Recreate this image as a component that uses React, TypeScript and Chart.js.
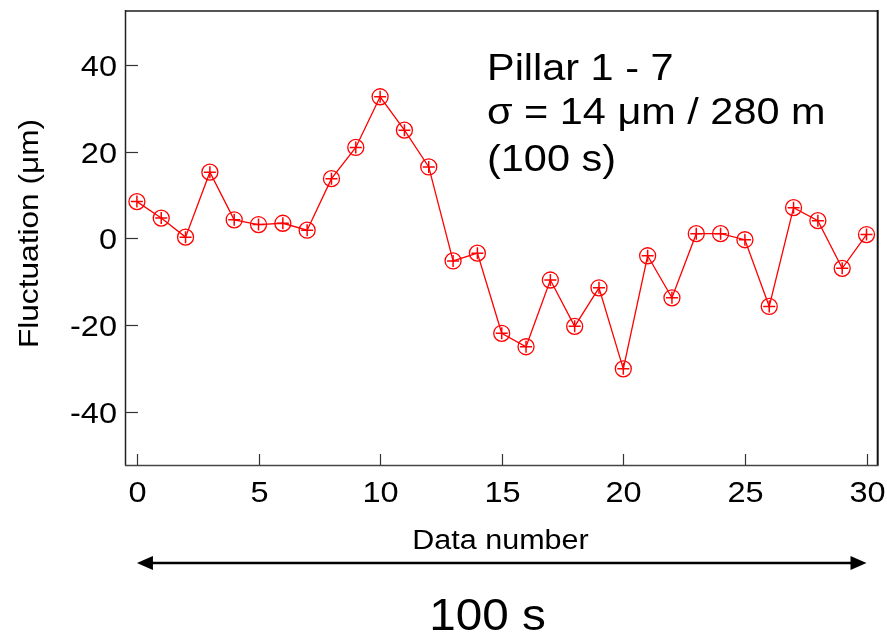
import React, { useEffect, useRef } from "react";
import { Chart, registerables } from "chart.js";

Chart.register(...registerables);

const dataNumbers = Array.from({ length: 31 }, (_, i) => i);
const fluctuation = [
  8.5, 4.7, 0.3, 15.3, 4.3, 3.2, 3.5, 1.9, 13.8, 21.0, 32.7, 25.0, 16.5, -5.2,
  -3.4, -21.9, -25.0, -9.6, -20.3, -11.4, -30.1, -4.0, -13.7, 1.1, 1.1, -0.3,
  -15.7, 7.1, 4.1, -6.9, 0.9,
];
const xTicks = [0, 5, 10, 15, 20, 25, 30];
const yTicks = [-40, -20, 0, 20, 40];
const annotationLines = ["Pillar 1 - 7", "\u03c3 = 14 \u03bcm / 280 m", "(100 s)"];
const xTitle = "Data number";
const yTitle = "Fluctuation (\u03bcm)";
const spanLabel = "100 s";

const FONT = '"Liberation Sans", Arial, sans-serif';

function txt(
  ctx: CanvasRenderingContext2D,
  s: string,
  x: number,
  y: number,
  size: number,
  align: CanvasTextAlign,
  sx: number,
  rot = 0
) {
  ctx.save();
  ctx.translate(x, y);
  if (rot) ctx.rotate(rot);
  ctx.scale(sx, 1);
  ctx.font = `${size}px ${FONT}`;
  ctx.textAlign = align;
  ctx.textBaseline = "alphabetic";
  ctx.fillStyle = "#000";
  ctx.fillText(s, 0, 0);
  ctx.restore();
}

const decorPlugin = {
  id: "decor",
  afterDraw(chart: any) {
    const ctx: CanvasRenderingContext2D = chart.ctx;
    const { left, right, top, bottom } = chart.chartArea;
    const xs = chart.scales.x;
    const ys = chart.scales.y;
    ctx.save();
    // frame
    ctx.lineCap = "butt";
    ctx.strokeStyle = "#555";
    ctx.lineWidth = 2;
    ctx.beginPath();
    ctx.moveTo(left, top);
    ctx.lineTo(right, top);
    ctx.stroke();
    ctx.strokeStyle = "#111";
    ctx.beginPath();
    ctx.moveTo(right, top - 1);
    ctx.lineTo(right, bottom);
    ctx.stroke();
    ctx.lineWidth = 1.5;
    ctx.strokeStyle = "#222";
    ctx.beginPath();
    ctx.moveTo(left + 0.5, top - 1);
    ctx.lineTo(left + 0.5, bottom + 0.5);
    ctx.stroke();
    ctx.strokeStyle = "#444";
    ctx.beginPath();
    ctx.moveTo(left, bottom + 0.5);
    ctx.lineTo(right + 1, bottom + 0.5);
    ctx.stroke();
    // ticks
    ctx.lineWidth = 1.2;
    ctx.strokeStyle = "#333";
    xTicks.forEach((v) => {
      const px = Math.round(xs.getPixelForValue(v)) + 0.5;
      ctx.beginPath();
      ctx.moveTo(px, bottom);
      ctx.lineTo(px, bottom - 11);
      ctx.stroke();
      txt(ctx, String(v), px, bottom + 37, 29, "center", 1.12);
    });
    yTicks.forEach((v) => {
      const py = Math.round(ys.getPixelForValue(v)) + 0.5;
      ctx.beginPath();
      ctx.moveTo(left, py);
      ctx.lineTo(left + 13, py);
      ctx.stroke();
      txt(ctx, String(v), left - 8, py + 10, 29, "right", 1.12);
    });
    // titles
    txt(ctx, yTitle, 38, 233.5, 28, "center", 1.13, -Math.PI / 2);
    txt(ctx, xTitle, 500.5, 549, 27, "center", 1.13);
    // arrow
    const ay = 563;
    const ax0 = xs.getPixelForValue(0);
    const ax1 = xs.getPixelForValue(30);
    ctx.strokeStyle = "#000";
    ctx.fillStyle = "#000";
    ctx.lineWidth = 2.6;
    ctx.beginPath();
    ctx.moveTo(ax0 + 8, ay);
    ctx.lineTo(ax1 - 8, ay);
    ctx.stroke();
    ctx.beginPath();
    ctx.moveTo(ax0, ay);
    ctx.lineTo(ax0 + 16, ay - 7);
    ctx.lineTo(ax0 + 16, ay + 7);
    ctx.closePath();
    ctx.fill();
    ctx.beginPath();
    ctx.moveTo(ax1, ay);
    ctx.lineTo(ax1 - 16, ay - 7);
    ctx.lineTo(ax1 - 16, ay + 7);
    ctx.closePath();
    ctx.fill();
    txt(ctx, spanLabel, 487.5, 630, 45, "center", 1.06);
    // annotation
    const baselines = [80, 124, 171];
    annotationLines.forEach((s, i) => txt(ctx, s, 487, baselines[i], 37, "left", 1.12));
    ctx.restore();
  },
};

export default function App() {
  const ref = useRef<HTMLCanvasElement>(null);
  useEffect(() => {
    if (!ref.current) return;
    const pts = dataNumbers.map((x, i) => ({ x, y: fluctuation[i] }));
    const chart = new Chart(ref.current, {
      type: "scatter",
      data: {
        datasets: [
          {
            data: pts,
            showLine: true,
            borderColor: "#ff0000",
            borderWidth: 1.3,
            pointStyle: "circle",
            pointRadius: 8,
            pointBorderWidth: 1.3,
            pointBorderColor: "#ff0000",
            pointBackgroundColor: "rgba(0,0,0,0)",
            clip: false as any,
          },
          {
            data: pts,
            showLine: false,
            pointStyle: "cross",
            pointRadius: 6,
            pointBorderWidth: 1.5,
            pointBorderColor: "#ff0000",
            borderColor: "#ff0000",
            clip: false as any,
          },
        ],
      },
      options: {
        animation: false,
        responsive: false,
        maintainAspectRatio: false,
        devicePixelRatio: 1,
        layout: { padding: { left: 125, top: 11, right: 9, bottom: 172 } },
        plugins: { legend: { display: false }, tooltip: { enabled: false } },
        scales: {
          x: { type: "linear", min: -0.49, max: 30.46, display: false },
          y: { type: "linear", min: -52.3, max: 52.5, display: false },
        },
      },
      plugins: [decorPlugin],
    });
    return () => chart.destroy();
  }, []);
  return (
    <div style={{ position: "absolute", left: 0, top: 0, width: 887, height: 637, background: "#fff" }}>
      <canvas ref={ref} width={887} height={637} style={{ width: 887, height: 637, display: "block" }} />
    </div>
  );
}
